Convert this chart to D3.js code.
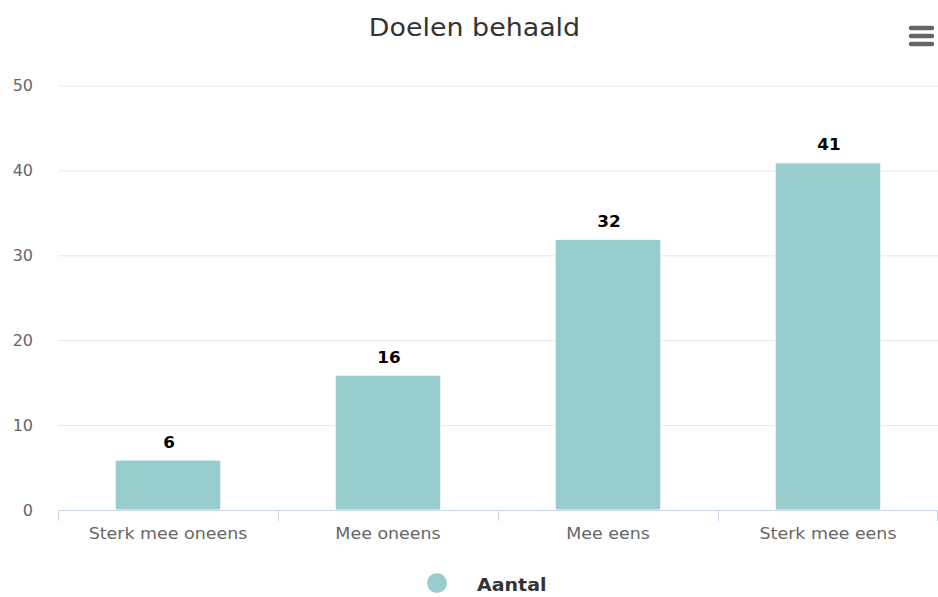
<!DOCTYPE html>
<html>
<head>
<meta charset="utf-8">
<script src="https://cdn.jsdelivr.net/npm/d3@7"></script>
<style>
  body { margin: 0; background: #fff; }
  svg { font-family: "DejaVu Sans", sans-serif; display: block; }
</style>
</head>
<body>
<div class="visualization"></div>
<script>
// data
const categories = ["Sterk mee oneens", "Mee oneens", "Mee eens", "Sterk mee eens"];
const values = [6, 16, 32, 41];
const yTicks = [0, 10, 20, 30, 40, 50];
const seriesName = "Aantal";
const chartTitle = "Doelen behaald";

const width = 938;
const height = 597;
const barColor = "#99cccc";

const svg = d3.select(".visualization")
    .append("svg")
    .attr("width", width)
    .attr("height", height);

const plot = {left: 58, right: 938, top: 85.5, bottom: 510};

const x = d3.scaleBand()
    .domain(categories)
    .range([plot.left, plot.right]);

const y = d3.scaleLinear()
    .domain([0, 50])
    .range([plot.bottom, plot.top]);

// title (the original font runs a bit wider than DejaVu, so stretch it)
svg.append("text")
    .attr("transform", "translate(474.5,36) scale(1.12,1)")
    .attr("text-anchor", "middle")
    .style("font-size", "24px")
    .style("fill", "#333333")
    .text(chartTitle);

// menu icon
svg.append("g")
    .selectAll("line")
    .data([28, 36, 44])
    .enter()
    .append("line")
    .attr("x1", 911)
    .attr("x2", 932)
    .attr("y1", d => d)
    .attr("y2", d => d)
    .attr("stroke", "#666666")
    .attr("stroke-width", 4.5)
    .attr("stroke-linecap", "round");

// gridlines + y labels
const yAxis = d3.axisLeft(y)
    .tickValues(yTicks)
    .tickSize(-(plot.right - plot.left))
    .tickPadding(25);

const gy = svg.append("g")
    .attr("transform", `translate(${plot.left},0)`)
    .call(yAxis);
gy.select(".domain").remove();
gy.selectAll(".tick line").attr("stroke", "#e6e6e6");
gy.selectAll(".tick text")
    .attr("dy", null)
    .attr("y", 5)
    .style("font-size", "16px")
    .style("font-family", "DejaVu Sans, sans-serif")
    .attr("fill", "#666666");

// bars
const barWidth = x.bandwidth() * 0.48;
svg.append("g")
    .selectAll("rect")
    .data(values)
    .enter()
    .append("rect")
    .attr("x", (d, i) => x(categories[i]) + (x.bandwidth() - barWidth) / 2)
    .attr("y", d => y(d) + 1)
    .attr("width", barWidth)
    .attr("height", d => y(0) - y(d) - 1)
    .attr("fill", barColor)
    .attr("stroke", "#ffffff")
    .attr("stroke-width", 1);

// data labels
svg.append("g")
    .selectAll("text")
    .data(values)
    .enter()
    .append("text")
    .attr("transform", (d, i) => `translate(${x(categories[i]) + x.bandwidth() / 2 + 1},${y(d) - 11.5}) scale(1.05,1)`)
    .attr("text-anchor", "middle")
    .style("font-size", "16px")
    .style("font-weight", "bold")
    .style("fill", "#000000")
    .text(d => d);

// x axis: line, ticks at category boundaries, labels
const gx = svg.append("g");
gx.append("line")
    .attr("x1", plot.left)
    .attr("x2", plot.right)
    .attr("y1", plot.bottom + 0.5)
    .attr("y2", plot.bottom + 0.5)
    .attr("stroke", "#ccd6eb");

const boundaries = categories.map(c => x(c)).concat([plot.right]);
gx.selectAll(".xtick")
    .data(boundaries)
    .enter()
    .append("line")
    .attr("class", "xtick")
    .attr("x1", d => Math.min(d + 0.5, plot.right - 0.5))
    .attr("x2", d => Math.min(d + 0.5, plot.right - 0.5))
    .attr("y1", plot.bottom)
    .attr("y2", plot.bottom + 11)
    .attr("stroke", "#ccd6eb");

gx.selectAll(".xlabel")
    .data(categories)
    .enter()
    .append("text")
    .attr("class", "xlabel")
    .attr("transform", d => `translate(${x(d) + x.bandwidth() / 2},539) scale(1.09,1)`)
    .attr("text-anchor", "middle")
    .style("font-size", "16px")
    .style("fill", "#666666")
    .text(d => d);

// legend
const legend = svg.append("g");
legend.append("circle")
    .attr("cx", 437)
    .attr("cy", 583)
    .attr("r", 10)
    .attr("fill", barColor);
legend.append("text")
    .attr("transform", "translate(477,591) scale(1.12,1)")
    .style("font-size", "17px")
    .style("font-weight", "bold")
    .style("fill", "#333333")
    .text(seriesName);
</script>
</body>
</html>
